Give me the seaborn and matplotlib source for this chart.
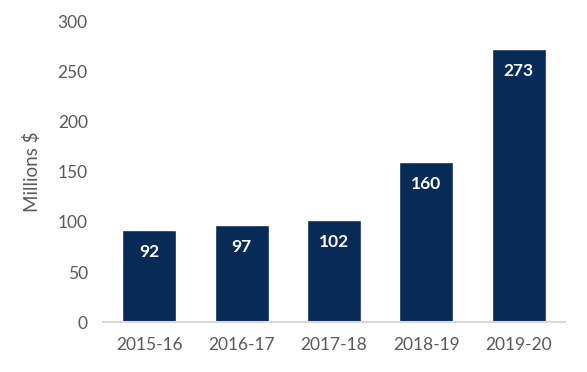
import matplotlib
matplotlib.use("Agg")
import matplotlib.pyplot as plt
import seaborn as sns
import pandas as pd

years = ["2015-16", "2016-17", "2017-18", "2018-19", "2019-20"]
values = [92, 97, 102, 160, 273]

df = pd.DataFrame({"year": years, "value": values})

sns.set_style("white")
plt.rcParams["font.family"] = ["Lato", "DejaVu Sans"]

fig = plt.figure(figsize=(5.87, 3.72), dpi=100)
ax = fig.add_axes([0.1755, 0.1344, 0.787, 0.8065])

sns.barplot(data=df, x="year", y="value", color="#072a57", saturation=1,
            width=0.585, ax=ax)

for i, v in enumerate(values):
    ax.annotate(str(v), (i, v), xytext=(0, -16), textcoords="offset points",
                ha="center", va="center", color="white", fontsize=12.5,
                fontweight="bold")

ax.set_ylim(0, 300)
ax.set_xlim(-0.5, 4.5)
ax.set_yticks(range(0, 301, 50))
ax.set_xlabel("")
ax.set_ylabel("Millions $", fontsize=13.5, color="#595959", labelpad=12)
ax.tick_params(axis="y", length=0, pad=11, labelsize=12.5, labelcolor="#595959")
ax.tick_params(axis="x", length=0, pad=11, labelsize=12.5, labelcolor="#595959")

for s in ["top", "right", "left"]:
    ax.spines[s].set_visible(False)
ax.spines["bottom"].set_color("#d9d9d9")
ax.spines["bottom"].set_linewidth(1.5)

fig.savefig("out.png", dpi=100)
